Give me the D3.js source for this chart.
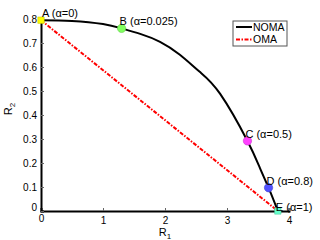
<!DOCTYPE html>
<html>
<head>
<meta charset="utf-8">
<script src="https://cdn.jsdelivr.net/npm/d3@7"></script>
<style>
body { margin: 0; background: #fff; }
svg { font-family: "Liberation Sans", Arial, sans-serif; }
</style>
</head>
<body>
<svg id="chart" width="320" height="240"></svg>
<script>
// NOMA boundary (R1, R2)
var nomaR1 = [0, 0.5, 1.0, 1.3, 1.6, 1.92, 2.24, 2.56, 2.89, 3.33, 3.53, 3.67, 3.82];
var nomaR2 = [0.795, 0.792, 0.779, 0.761, 0.738, 0.705, 0.651, 0.58, 0.488, 0.292, 0.18, 0.097, 0];
// OMA straight line
var omaR1 = [0, 3.82];
var omaR2 = [0.795, 0];
// marked operating points
var ptNames = ["A (α=0)", "B (α=0.025)", "C (α=0.5)", "D (α=0.8)", "E (α=1)"];
var ptR1 = [0, 1.3, 3.33, 3.67, 3.82];
var ptR2 = [0.795, 0.761, 0.292, 0.097, 0];
var ptColors = ["#ffff00", "#80ff60", "#ff40ff", "#5050ff", "#66ffcc"];
var ptShapes = ["square", "circle", "circle", "circle", "square"];
var xTicks = [0, 1, 2, 3, 4];
var yTicks = [0, 0.1, 0.2, 0.3, 0.4, 0.5, 0.6, 0.7, 0.8];
var legendNames = ["NOMA", "OMA"];

(function () {
	var svg = d3.select("#chart");
	var margin = {top: 19, left: 41},
	width = 248,
	height = 192,
	g = svg.append("g").attr("transform", "translate(" + margin.left + "," + margin.top + ")");

	var x = d3.scaleLinear().domain([0, 4]).range([0, width]);
	var y = d3.scaleLinear().domain([0, 0.8]).range([height, 0]);

	// axes, MATLAB style: ticks inward
	var xAxis = g.append("g")
		.attr("transform", "translate(0," + height + ")")
		.call(d3.axisBottom(x).tickValues(xTicks).tickSize(-3).tickPadding(6).tickFormat(d3.format("d")));
	var yAxis = g.append("g")
		.call(d3.axisLeft(y).tickValues(yTicks).tickSize(-3).tickPadding(4).tickFormat(function (d) {
			return d === 0 ? "0" : d3.format(".1f")(d);
		}));
	[xAxis, yAxis].forEach(function (a) {
		a.select(".domain").attr("stroke", "#000").attr("stroke-width", 2);
		a.selectAll(".tick line").attr("stroke", "#666");
		a.selectAll("text").attr("font-size", 10).attr("fill", "#000").attr("font-family", "Liberation Sans, Arial, sans-serif");
	});
	// nudge the two zero labels like the original
	xAxis.selectAll(".tick text").filter(function (d) { return d === 0; }).attr("dy", "0.5em");
	yAxis.selectAll(".tick text").filter(function (d) { return d === 0; }).attr("dy", "-0.05em");

	g.append("text")
		.attr("x", x(2))
		.attr("y", height + 25)
		.attr("text-anchor", "middle")
		.attr("font-size", 11)
		.html('R<tspan font-size="8" dy="3">1</tspan>');
	g.append("text")
		.attr("transform", "translate(-29," + (height / 2 - 6) + ") rotate(-90)")
		.attr("text-anchor", "middle")
		.attr("font-size", 11)
		.html('R<tspan font-size="8" dy="3">2</tspan>');

	var line = d3.line()
		.x(function (d) { return x(d[0]); })
		.y(function (d) { return y(d[1]); });

	g.append("path")
		.datum(d3.zip(omaR1, omaR2))
		.attr("fill", "none")
		.attr("stroke", "#ff0000")
		.attr("stroke-width", 2)
		.attr("stroke-dasharray", "4,1.5,1.5,1.5")
		.attr("d", line);

	g.append("path")
		.datum(d3.zip(nomaR1, nomaR2))
		.attr("fill", "none")
		.attr("stroke", "#000")
		.attr("stroke-width", 2)
		.attr("d", line.curve(d3.curveNatural));

	var pts = g.selectAll(".pt")
		.data(ptNames.map(function (n, i) {
			return {name: n, r1: ptR1[i], r2: ptR2[i], color: ptColors[i], shape: ptShapes[i]};
		}))
		.enter().append("g")
		.attr("class", "pt")
		.attr("transform", function (d) { return "translate(" + x(d.r1) + "," + y(d.r2) + ")"; });

	pts.append("path")
		.attr("d", function (d) {
			var sym = d.shape === "square" ? d3.symbolSquare : d3.symbolCircle;
			return d3.symbol().type(sym).size(d.shape === "square" ? 40 : 55)();
		})
		.attr("fill", function (d) { return d.color; })
		.attr("stroke", function (d) { return d3.color(d.color).darker(0.6); })
		.attr("stroke-width", 0.6);

	pts.append("text")
		.attr("x", function (d, i) { return i === 0 ? 1 : -2; })
		.attr("y", function (d, i) { return i === 4 ? 0 : -3; })
		.attr("font-size", 11)
		.text(function (d) { return d.name; });

	// legend
	var lg = svg.append("g").attr("transform", "translate(233,21)");
	lg.append("rect")
		.attr("width", 54)
		.attr("height", 25)
		.attr("fill", "#fff")
		.attr("stroke", "#555")
		.attr("stroke-width", 1);
	var items = lg.selectAll(".item")
		.data(legendNames)
		.enter().append("g")
		.attr("transform", function (d, i) { return "translate(0," + (6 + i * 12.5) + ")"; });
	items.append("line")
		.attr("x1", 3)
		.attr("x2", 19)
		.attr("stroke", function (d, i) { return i === 0 ? "#000" : "#ff0000"; })
		.attr("stroke-width", 2)
		.attr("stroke-dasharray", function (d, i) { return i === 0 ? null : "4,1.5,1.5,1.5"; });
	items.append("text")
		.attr("x", 20)
		.attr("dy", "0.35em")
		.attr("font-size", 10.5)
		.text(function (d) { return d; });
}) ();
</script>
</body>
</html>
